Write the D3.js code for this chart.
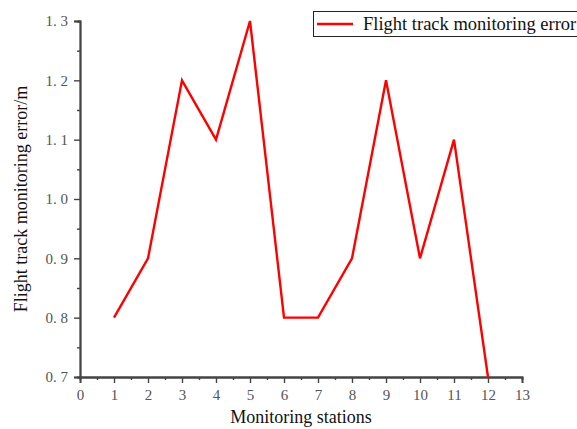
<!DOCTYPE html>
<html>
<head>
<meta charset="utf-8">
<script src="https://cdn.jsdelivr.net/npm/d3@7"></script>
<style>
  body { margin: 0; background: #fff; }
</style>
</head>
<body>
<svg width="577" height="429"></svg>
<script>
// data
let stations = [1, 2, 3, 4, 5, 6, 7, 8, 9, 10, 11, 12];
let errors = [0.8, 0.9, 1.2, 1.1, 1.3, 0.8, 0.8, 0.9, 1.2, 0.9, 1.1, 0.7];
let xTicks = [0, 1, 2, 3, 4, 5, 6, 7, 8, 9, 10, 11, 12, 13];
let yTicks = [0.7, 0.8, 0.9, 1.0, 1.1, 1.2, 1.3];
let seriesName = "Flight track monitoring error";

let svg = d3.select("svg");
let padL = 80, padR = 522, padT = 21, padB = 377;
let axisColor = "#444";
let serif = "'Liberation Serif', 'Times New Roman', serif";

let xScale = d3.scaleLinear().domain([0, 13]).range([padL, padR]);
let yScale = d3.scaleLinear().domain([0.7, 1.3]).range([padB, padT]);

// minor ticks
let xMinor = d3.range(0.5, 13, 1);
let yMinor = d3.range(0.75, 1.3, 0.1);

let gx = svg.append("g").attr("transform", `translate(0, ${padB})`);
gx.append("g").call(d3.axisBottom(xScale).tickValues(xMinor).tickSize(3).tickFormat(""));
gx.append("g").call(d3.axisBottom(xScale).tickValues(xTicks).tickSize(6).tickPadding(6).tickFormat(d3.format("d")));

let gy = svg.append("g").attr("transform", `translate(${padL}, 0)`);
gy.append("g").call(d3.axisLeft(yScale).tickValues(yMinor).tickSize(3).tickFormat(""));
gy.append("g").call(d3.axisLeft(yScale).tickValues(yTicks).tickSize(6).tickPadding(6)
  .tickFormat((d) => d3.format(".1f")(d).replace(".", ". ")));

svg.selectAll(".domain").attr("stroke", axisColor).attr("stroke-width", 1.8);
svg.selectAll(".tick line").attr("stroke", axisColor).attr("stroke-width", 1.4);
svg.selectAll(".tick text")
  .attr("fill", "#555")
  .style("font-size", "15px")
  .style("font-family", serif);

// series line
let line = d3.line()
  .x((d, i) => xScale(stations[i]))
  .y((d) => yScale(d));
svg.append("path")
  .datum(errors)
  .attr("d", line)
  .attr("fill", "none")
  .attr("stroke", "#ff0000")
  .attr("stroke-width", 2.4)
  .attr("stroke-linejoin", "miter");

// axis titles
svg.append("text")
  .attr("x", 301)
  .attr("y", 423)
  .attr("text-anchor", "middle")
  .style("font-size", "18px")
  .style("font-family", serif)
  .attr("fill", "#111")
  .text("Monitoring stations");

svg.append("text")
  .attr("transform", `translate(27, ${(padT + padB) / 2}) rotate(-90)`)
  .attr("text-anchor", "middle")
  .style("font-size", "18px")
  .style("font-family", serif)
  .attr("fill", "#111")
  .text("Flight track monitoring error/m");

// legend
let legend = svg.append("g");
legend.append("rect")
  .attr("x", 313.5).attr("y", 11.5)
  .attr("width", 280).attr("height", 25)
  .attr("fill", "#fff").attr("stroke", "#222").attr("stroke-width", 1);
legend.append("line")
  .attr("x1", 317).attr("x2", 353)
  .attr("y1", 24).attr("y2", 24)
  .attr("stroke", "#ff0000").attr("stroke-width", 2.4);
legend.append("text")
  .attr("x", 363).attr("y", 30)
  .style("font-size", "18.5px")
  .style("font-family", serif)
  .attr("fill", "#111")
  .text(seriesName);
</script>
</body>
</html>
